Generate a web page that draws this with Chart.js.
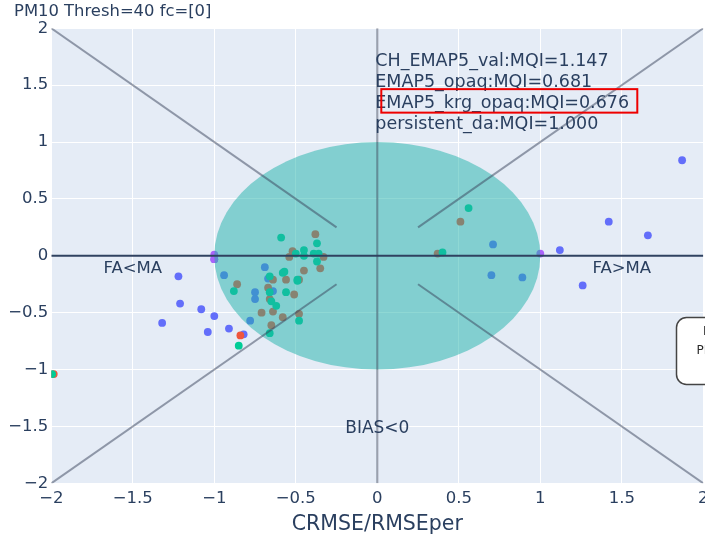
<!DOCTYPE html>
<html>
<head>
<meta charset="utf-8">
<script src="https://cdn.jsdelivr.net/npm/chart.js@4/dist/chart.umd.min.js"></script>
<style>
  html, body { margin: 0; padding: 0; background: #ffffff; }
  #wrap { width: 705px; height: 537px; position: relative; }
  canvas { display: block; }
</style>
</head>
<body>
<div id="wrap"><canvas id="target" width="705" height="537"></canvas></div>
<script>
// Series names and their quality indicator values
const seriesNames = ['CH_EMAP5_val', 'EMAP5_opaq', 'EMAP5_krg_opaq', 'persistent_da'];
const mqiValues = [1.147, 0.681, 0.676, 1.000];
const seriesColors = ['#636efa', '#EF553B', '#00cc96', '#ab63fa'];

// CH_EMAP5_val: x = CRMSE/RMSEper, y = normalised bias
const chEmap5ValX = [-1.22, -1.21, -1.08, -1.00, -1.32, -1.04, -0.91, -0.82, -1.00,
                     -0.94, -0.75, -0.75, -0.78, -0.69, -0.67, -0.64,
                     1.87, 1.42, 1.66, 0.71, 1.12, 0.70, 0.89, 1.26];
const chEmap5ValY = [-0.18, -0.42, -0.47, -0.53, -0.59, -0.67, -0.64, -0.69, -0.03,
                     -0.17, -0.32, -0.38, -0.57, -0.10, -0.20, -0.31,
                     0.84, 0.30, 0.18, 0.10, 0.05, -0.17, -0.19, -0.26];

// EMAP5_opaq
const emap5OpaqX = [-0.38, -0.52, -0.54, -0.33, -0.35, -0.45, -0.64, -0.56, -0.48, -0.86,
                    -0.67, -0.51, -0.66, -0.71, -0.64, -0.58, -0.48, -0.65, -0.84, -1.985,
                    0.51, 0.37];
const emap5OpaqY = [0.19, 0.04, -0.01, -0.01, -0.11, -0.13, -0.21, -0.21, -0.21, -0.25,
                    -0.28, -0.34, -0.38, -0.50, -0.49, -0.54, -0.51, -0.61, -0.70, -1.04,
                    0.30, 0.02];

// EMAP5_krg_opaq
const emap5KrgOpaqX = [-0.59, -0.37, -0.50, -0.45, -0.45, -0.39, -0.36, -0.37, -0.58, -0.57,
                       -0.66, -0.49, -0.49, -0.88, -0.66, -0.56, -0.65, -0.62, -0.48, -0.66,
                       -0.85, -1.995, 0.56, 0.40];
const emap5KrgOpaqY = [0.16, 0.11, 0.02, 0.05, 0.00, 0.02, 0.02, -0.05, -0.15, -0.14,
                       -0.18, -0.21, -0.22, -0.31, -0.32, -0.32, -0.40, -0.44, -0.57, -0.68,
                       -0.79, -1.04, 0.42, 0.03];

// persistent_da
const persistentDaX = [-1.00, -1.00, 1.00];
const persistentDaY = [0.01, -0.03, 0.02];

// Axis ticks
const tickValues = [-2, -1.5, -1, -0.5, 0, 0.5, 1, 1.5, 2];
const xTickLabels = ['\u22122', '\u22121.5', '\u22121', '\u22120.5', '0', '0.5', '1', '1.5', '2'];
const yTickLabels = ['\u22122', '\u22121.5', '\u22121', '\u22120.5', '0', '0.5', '1', '1.5', '2'];

// Target-diagram guide segments in data units [x0, y0, x1, y1]
const diagonalSegments = [
  [-2, 2, -0.25, 0.25],
  [0.25, 0.25, 2, 2],
  [-2, -2, -0.25, -0.25],
  [0.25, -0.25, 2, -2]
];

// Plot frame edges in canvas pixels
const PLOT_RIGHT = 703.3;

const FONT = '"DejaVu Sans", Verdana, sans-serif';
const TEXT_COLOR = '#2a3f5f';

function toPoints(xs, ys) { return xs.map((x, i) => ({ x: x, y: ys[i] })); }

const seriesX = [chEmap5ValX, emap5OpaqX, emap5KrgOpaqX, persistentDaX];
const seriesY = [chEmap5ValY, emap5OpaqY, emap5KrgOpaqY, persistentDaY];

const datasets = seriesNames.map((name, i) => ({
  label: name,
  data: toPoints(seriesX[i], seriesY[i]),
  backgroundColor: seriesColors[i],
  borderWidth: 0,
  pointRadius: 3.9,
  pointHoverRadius: 3.9,
  clip: 0,
  order: seriesNames.length - i
}));

// Let the plot run up to the right edge; the last tick label may be cut off
const frameFit = {
  id: 'frameFit',
  afterLayout(chart) {
    const xs = chart.scales.x;
    xs.right = PLOT_RIGHT;
    xs.width = xs.right - xs.left;
    xs.configure();
    chart.chartArea.right = PLOT_RIGHT;
    chart.chartArea.width = chart.chartArea.right - chart.chartArea.left;
  }
};

// Plot background, unit circle and guide lines
const targetDiagram = {
  id: 'targetDiagram',
  beforeDraw(chart) {
    const { ctx, chartArea: a } = chart;
    ctx.save();
    ctx.fillStyle = '#ffffff';
    ctx.fillRect(0, 0, chart.width, chart.height);
    ctx.fillStyle = '#e5ecf6';
    ctx.fillRect(a.left, a.top, a.right - a.left, a.bottom - a.top);
    ctx.restore();
  },
  afterDatasetsDraw(chart) {
    const { ctx, chartArea: a } = chart;
    const xs = chart.scales.x, ys = chart.scales.y;
    ctx.save();
    ctx.beginPath();
    ctx.rect(a.left, a.top, a.right - a.left, a.bottom - a.top);
    ctx.clip();

    // unit circle (ellipse in pixel space)
    const cx = xs.getPixelForValue(0), cy = ys.getPixelForValue(0);
    const rx = xs.getPixelForValue(1) - cx, ry = cy - ys.getPixelForValue(1);
    ctx.beginPath();
    ctx.ellipse(cx, cy, rx, ry, 0, 0, Math.PI * 2);
    ctx.fillStyle = 'rgba(32,178,170,0.5)';
    ctx.fill();

    // vertical axis through zero
    ctx.strokeStyle = 'rgba(55,65,90,0.5)';
    ctx.lineWidth = 2;
    ctx.beginPath();
    ctx.moveTo(cx, ys.getPixelForValue(2));
    ctx.lineTo(cx, ys.getPixelForValue(-2));
    ctx.stroke();

    // diagonals
    diagonalSegments.forEach(s => {
      ctx.beginPath();
      ctx.moveTo(xs.getPixelForValue(s[0]), ys.getPixelForValue(s[1]));
      ctx.lineTo(xs.getPixelForValue(s[2]), ys.getPixelForValue(s[3]));
      ctx.stroke();
    });

    // horizontal axis through zero
    ctx.strokeStyle = '#2f4260';
    ctx.lineWidth = 2;
    ctx.beginPath();
    ctx.moveTo(xs.getPixelForValue(-2), cy);
    ctx.lineTo(xs.getPixelForValue(2), cy);
    ctx.stroke();
    ctx.restore();
  },
  afterDraw(chart) {
    const { ctx } = chart;
    const xs = chart.scales.x, ys = chart.scales.y;
    ctx.save();
    ctx.fillStyle = TEXT_COLOR;
    ctx.textBaseline = 'middle';

    // quadrant labels
    ctx.font = '16.5px ' + FONT;
    ctx.textAlign = 'center';
    ctx.fillText('FA<MA', xs.getPixelForValue(-1.5), ys.getPixelForValue(-0.11));
    ctx.fillText('FA>MA', xs.getPixelForValue(1.5), ys.getPixelForValue(-0.11));
    ctx.font = '17px ' + FONT;
    ctx.fillText('BIAS<0', xs.getPixelForValue(0), ys.getPixelForValue(-1.52));

    // MQI summary block
    ctx.font = '17.5px ' + FONT;
    ctx.textAlign = 'left';
    const bx = xs.getPixelForValue(0) - 2;
    const by = ys.getPixelForValue(1.43);
    const lh = 21;
    seriesNames.forEach((name, i) => {
      const ly = by + (i - 1.5) * lh;
      ctx.fillText(name + ':MQI=' + mqiValues[i].toFixed(3), bx, ly);
    });

    // highlight box around the third entry
    const hy = by + 0.5 * lh;
    ctx.strokeStyle = '#ee0000';
    ctx.lineWidth = 2;
    ctx.strokeRect(bx + 6, hy - 14.5, 256, 23.5);

    // subtitle
    ctx.font = '16.4px ' + FONT;
    ctx.fillStyle = TEXT_COLOR;
    ctx.fillText('PM10 Thresh=40 fc=[0]', 14, 12);

    // side info box
    const lx = 676.5, ly0 = 317.5, lw = 60, lhgt = 67, r = 10;
    ctx.beginPath();
    ctx.moveTo(lx + r, ly0);
    ctx.lineTo(lx + lw - r, ly0);
    ctx.arcTo(lx + lw, ly0, lx + lw, ly0 + r, r);
    ctx.lineTo(lx + lw, ly0 + lhgt - r);
    ctx.arcTo(lx + lw, ly0 + lhgt, lx + lw - r, ly0 + lhgt, r);
    ctx.lineTo(lx + r, ly0 + lhgt);
    ctx.arcTo(lx, ly0 + lhgt, lx, ly0 + lhgt - r, r);
    ctx.lineTo(lx, ly0 + r);
    ctx.arcTo(lx, ly0, lx + r, ly0, r);
    ctx.closePath();
    ctx.fillStyle = '#ffffff';
    ctx.fill();
    ctx.strokeStyle = '#444444';
    ctx.lineWidth = 1.5;
    ctx.stroke();
    ctx.fillStyle = '#2a2a2a';
    ctx.font = '12px ' + FONT;
    ctx.fillText('MQI', 703, 332);
    ctx.fillText('PM10', 696.5, 351);
    ctx.restore();
  }
};

new Chart(document.getElementById('target'), {
  type: 'scatter',
  data: { datasets: datasets },
  options: {
    responsive: false,
    animation: false,
    events: [],
    layout: { padding: { top: 28.3, right: 1.7, left: 0, bottom: 0 } },
    plugins: { legend: { display: false }, tooltip: { enabled: false } },
    scales: {
      x: {
        type: 'linear', min: -2, max: 2,
        afterBuildTicks: s => { s.ticks = tickValues.map(v => ({ value: v })); },
        afterFit: s => { s.height = 53.7; s.paddingLeft = 0; s.paddingRight = 0; },
        ticks: {
          autoSkip: false, maxRotation: 0, padding: 6,
          color: TEXT_COLOR, font: { family: FONT, size: 16.5 },
          callback: v => { const i = tickValues.indexOf(v); return i >= 0 ? xTickLabels[i] : ''; }
        },
        grid: { color: '#ffffff', lineWidth: 1, drawTicks: false },
        border: { display: false },
        title: {
          display: true, text: 'CRMSE/RMSEper', color: TEXT_COLOR,
          font: { family: FONT, size: 20.5 }, padding: { top: 4, bottom: 0 }
        }
      },
      y: {
        type: 'linear', min: -2, max: 2,
        afterBuildTicks: s => { s.ticks = tickValues.map(v => ({ value: v })); },
        afterFit: s => { s.width = 51.3; s.paddingTop = 0; s.paddingBottom = 0; },
        ticks: {
          autoSkip: false, padding: 3,
          color: TEXT_COLOR, font: { family: FONT, size: 16.5 },
          callback: v => { const i = tickValues.indexOf(v); return i >= 0 ? yTickLabels[i] : ''; }
        },
        grid: { color: '#ffffff', lineWidth: 1, drawTicks: false },
        border: { display: false }
      }
    }
  },
  plugins: [frameFit, targetDiagram]
});
</script>
</body>
</html>
